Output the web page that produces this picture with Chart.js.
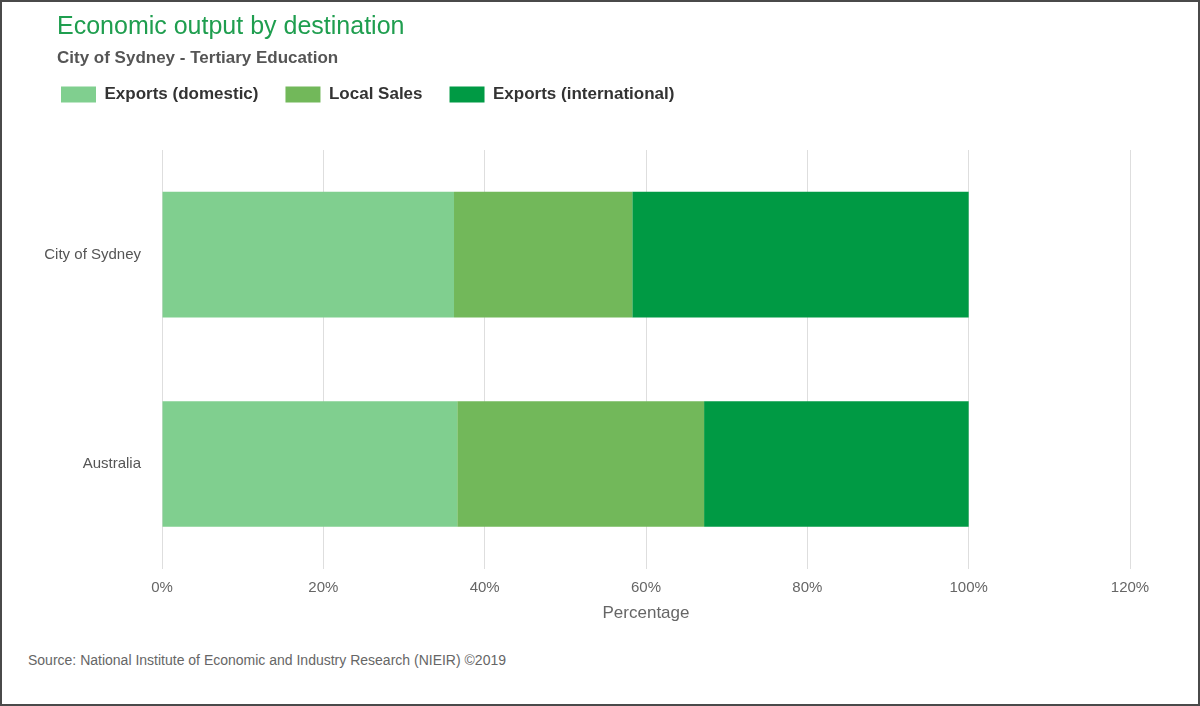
<!DOCTYPE html>
<html>
<head>
<meta charset="utf-8">
<script src="https://cdn.jsdelivr.net/npm/chart.js@4/dist/chart.umd.min.js"></script>
<style>
  html, body { margin: 0; padding: 0; background: #fff; }
  .frame {
    position: relative;
    width: 1200px; height: 706px;
    box-sizing: border-box;
    border: 2px solid #4a4a4a;
    font-family: "Liberation Sans", Arial, sans-serif;
  }
  .title {
    position: absolute; left: 55px; top: 9px;
    font-size: 25px; color: #1f9e4f; white-space: nowrap;
  }
  .subtitle {
    position: absolute; left: 55px; top: 46px;
    font-size: 17px; font-weight: bold; color: #555; white-space: nowrap;
  }
  .chart-box { position: absolute; left: 0; top: 0; width: 1196px; height: 640px; }
  .source {
    position: absolute; left: 26px; top: 650px;
    font-size: 14px; color: #666; white-space: nowrap;
  }
</style>
</head>
<body>
<div class="frame">
  <div class="chart-box"><canvas id="chart"></canvas></div>
  <div class="title">Economic output by destination</div>
  <div class="subtitle">City of Sydney - Tertiary Education</div>
  <div class="source">Source: National Institute of Economic and Industry Research (NIEIR) ©2019</div>
</div>
<script>
const categories = ["City of Sydney", "Australia"];
const seriesNames = ["Exports (domestic)", "Local Sales", "Exports (international)"];
const exportsDomestic = [36.2, 36.6];
const localSales = [22.1, 30.6];
const exportsInternational = [41.7, 32.8];
const seriesColors = ["#80cf8f", "#72b85a", "#009a44"];
const tickValues = [0, 20, 40, 60, 80, 100, 120];

const font = "'Liberation Sans', Arial, sans-serif";

const chartData = {
  labels: categories,
  datasets: [exportsDomestic, localSales, exportsInternational].map((values, i) => ({
    label: seriesNames[i],
    data: values,
    backgroundColor: seriesColors[i],
    hoverBackgroundColor: seriesColors[i],
    borderWidth: 0,
    categoryPercentage: 1,
    barPercentage: 0.6,
  })),
};

// extra room between the legend and the plot
const legendMargin = {
  id: "legendMargin",
  beforeInit(chart) {
    const fit = chart.legend.fit;
    chart.legend.fit = function () {
      fit.bind(chart.legend)();
      this.height += 37;
    };
  },
};

const chartOptions = {
  indexAxis: "y",
  responsive: true,
  maintainAspectRatio: false,
  animation: false,
  layout: { padding: { left: 32, right: 68, top: 57, bottom: 15 } },
  plugins: {
    legend: {
      align: "start",
      labels: {
        boxWidth: 35,
        boxHeight: 16,
        padding: 27,
        color: "#333",
        font: { family: font, size: 17, weight: "bold" },
      },
    },
    tooltip: { enabled: false },
  },
  scales: {
    x: {
      stacked: true,
      min: 0,
      max: 120,
      afterBuildTicks: (axis) => { axis.ticks = tickValues.map(v => ({ value: v })); },
      ticks: {
        color: "#666",
        padding: 10,
        font: { family: font, size: 15 },
        callback: (v) => v + "%",
      },
      grid: { color: "#dedede", drawTicks: false },
      border: { display: false },
      title: {
        display: true,
        text: "Percentage",
        color: "#666",
        font: { family: font, size: 17 },
        padding: { top: -3, bottom: 3 },
      },
    },
    y: {
      stacked: true,
      afterFit: (axis) => { axis.width = 128; },
      ticks: {
        color: "#555",
        padding: 21,
        font: { family: font, size: 15 },
      },
      grid: { display: false, drawTicks: false },
      border: { display: false },
    },
  },
};

new Chart(document.getElementById("chart"), {
  type: "bar",
  data: chartData,
  options: chartOptions,
  plugins: [legendMargin],
});
</script>
</body>
</html>
